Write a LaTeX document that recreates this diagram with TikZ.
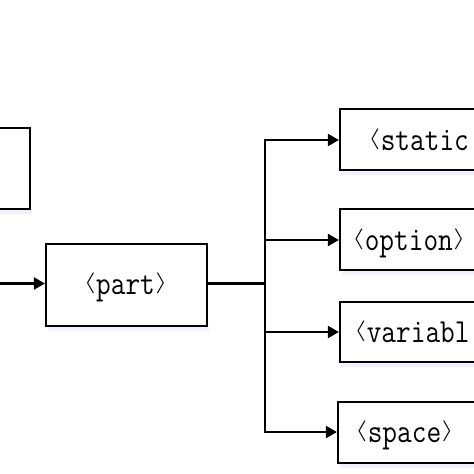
\documentclass[tikz,border=0pt]{standalone}
\usepackage{fontspec}
\usetikzlibrary{arrows.meta}
\newcommand{\mylangle}{\raisebox{5.2pt}{\scalebox{1.5}[1]{\fontsize{22}{22}\selectfont$\langle$}}\hspace{0.5pt}}
\newcommand{\myrangle}{\hspace{0.5pt}\raisebox{5.2pt}{\scalebox{1.5}[1]{\fontsize{22}{22}\selectfont$\rangle$}}}
\newcommand{\tall}[1]{\scalebox{1}[1.18]{#1}}
\tikzset{
  box/.style={draw=black, line width=2.2pt, rectangle, inner sep=0pt, fill=white},
  lbl/.style={font=\fontsize{28.5}{29}\selectfont\ttfamily, inner sep=0pt},
  conn/.style={line width=2.2pt},
  arr/.style={conn, -{Triangle[length=11pt,width=12pt]}}
}
\begin{document}
\begin{tikzpicture}[x=1pt,y=-1pt]
\useasboundingbox (0,0) rectangle (474,474);
\clip (0,0) rectangle (474,474);
\fill[white] (0,0) rectangle (474,474);
% shadows
\foreach \a/\b/\c/\d in {-40/128/30/209, 46/244/207/326, 340/109/560/170, 340/209/560/270, 340/302/560/362, 338/402/560/463}{
  \fill[blue!6] (\a+2,\d) rectangle (\c+2,\d+5);
}
% boxes
\node[box, minimum width=90pt, minimum height=81pt] (left) at (-15,168.5) {};
\node[box, minimum width=161pt, minimum height=82pt] (part) at (126.5,285) {};
\node[box, minimum width=220pt, minimum height=61pt] (static) at (450,139.5) {};
\node[box, minimum width=220pt, minimum height=61pt] (option) at (450,239.5) {};
\node[box, minimum width=220pt, minimum height=60pt] (variabl) at (450,332) {};
\node[box, minimum width=222pt, minimum height=61pt] (space) at (449,432.5) {};
% labels
\node[lbl, anchor=base] (tpart) at (125.5,294) {\mylangle\tall{part}\myrangle};
\node[lbl, anchor=base west] (tstatic) at (368,150) {\mylangle\tall{static}};
\node[lbl, anchor=base west] (toption) at (352,250) {\mylangle\tall{option}\myrangle};
\node[lbl, anchor=base west] (tvariabl) at (354,342) {\mylangle\tall{variabl}};
\node[lbl, anchor=base west] (tspace) at (355,442) {\mylangle\tall{space}\myrangle};
% connectors
\coordinate (src) at (-5,283.5);
\coordinate (fork) at (265,283.5);
\draw[arr] (src) -- (part.west |- src);
\draw[conn] (part.east |- fork) -- (fork);
\draw[conn] (265,139) -- (265,433);
\draw[arr] (265,140) -- (static.west |- 0,140);
\draw[arr] (265,240) -- (option.west |- 0,240);
\draw[arr] (265,332) -- (variabl.west |- 0,332);
\draw[arr] (265,432) -- (space.west |- 0,432);
\end{tikzpicture}
\end{document}
